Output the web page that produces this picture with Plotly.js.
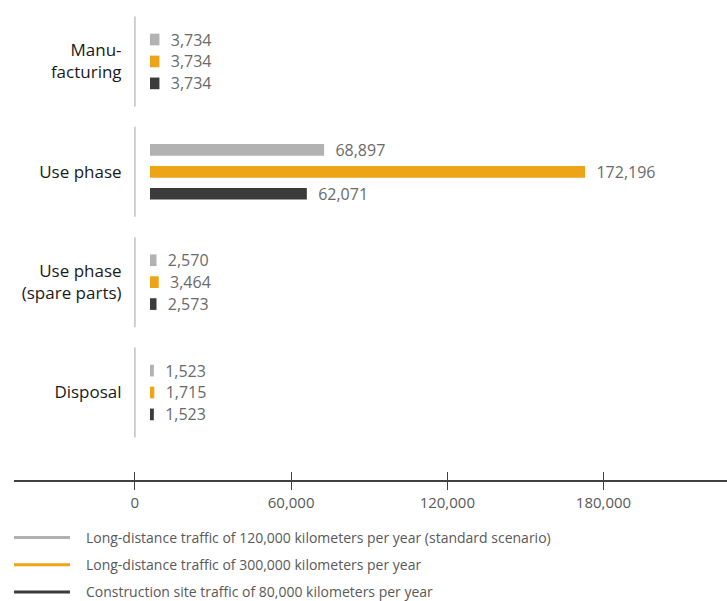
<!DOCTYPE html>
<html><head><meta charset="utf-8">
<script src="https://cdn.plot.ly/plotly-3.0.1.min.js"></script>
<style>body{margin:0;background:#fff}</style>
</head><body><div id="chart" style="width:727px;height:601px"></div>
<script>
const categories = ["Manu-<br>facturing", "Use phase", "Use phase<br>(spare parts)", "Disposal"];
const seriesNames = [
  "Long-distance traffic of 120,000 kilometers per year (standard scenario)",
  "Long-distance traffic of 300,000 kilometers per year",
  "Construction site traffic of 80,000 kilometers per year"
];
const longDistance120k = [3734, 68897, 2570, 1523];
const longDistance300k = [3734, 172196, 3464, 1715];
const constructionSite80k = [3734, 62071, 2573, 1523];
const tickValues = [0, 60000, 120000, 180000];
const tickLabels = ["0", "60,000", "120,000", "180,000"];
const colors = ["#b2b2b2", "#eda416", "#3b3b3b"];

const seriesValues = [longDistance120k, longDistance300k, constructionSite80k];
const FONT = "Open Sans, sans-serif";

const traces = [];
seriesValues.forEach((vals, k) => {
  traces.push({
    type: "bar", orientation: "h",
    x: vals, y: categories,
    xaxis: "x2", yaxis: "y",
    marker: {color: colors[k]},
    text: vals.map(v => "\u00a0\u00a0" + v.toLocaleString("en-US")),
    textposition: "outside", cliponaxis: false, constraintext: "none",
    textfont: {family: FONT, size: 16, color: "#6a6a6a"},
    hoverinfo: "skip", showlegend: false
  });
});
seriesNames.forEach((n, k) => {
  traces.push({
    type: "scatter", mode: "lines", x: [null], y: [null],
    xaxis: "x", yaxis: "y",
    name: "\u00a0\u00a0\u00a0" + n, legendgroup: "g" + k,
    line: {color: colors[k], width: 3}
  });
});

const shapes = categories.map((c, i) => ({
  type: "line", xref: "x", yref: "y",
  x0: 0, x1: 0, y0: i - 0.408, y1: i + 0.408,
  line: {color: "#c0c0c0", width: 1.5}
}));

const xr = [-46441, 227442];
const layout = {
  width: 727, height: 601,
  margin: {l: 14, r: 0, t: 0, b: 121, autoexpand: false},
  paper_bgcolor: "#fff", plot_bgcolor: "#fff",
  barmode: "group", bargap: 0.404, bargroupgap: 0.467,
  showlegend: true,
  legend: {
    xref: "container", yref: "container",
    x: 9 / 727, xanchor: "left", y: 1 - 522 / 601, yanchor: "top",
    font: {family: FONT, size: 14, color: "#595959"},
    tracegroupgap: 6, itemwidth: 56, bgcolor: "rgba(0,0,0,0)"
  },
  xaxis: {
    range: xr, tickvals: tickValues, ticktext: tickLabels, tickangle: 0,
    ticks: "outside", ticklen: 8, tickwidth: 1, tickcolor: "#404040",
    showline: true, linecolor: "#404040", linewidth: 1.5,
    showgrid: false, zeroline: false, fixedrange: true,
    tickfont: {family: FONT, size: 15, color: "#595959"},
    anchor: "y", automargin: false
  },
  xaxis3: {
    overlaying: "x", range: xr, tickvals: tickValues, ticktext: tickLabels,
    ticks: "inside", ticklen: 8, tickwidth: 1, tickcolor: "#404040",
    showticklabels: false, showline: false, showgrid: false, zeroline: false,
    anchor: "y"
  },
  xaxis2: {
    overlaying: "x", range: [-53819, 228334], visible: false, anchor: "y"
  },
  yaxis: {
    type: "category", range: [3.793, -0.557],
    anchor: "free", position: 0.1697,
    ticks: "outside", ticklen: 10, tickcolor: "rgba(0,0,0,0)",
    showline: false, showgrid: false, zeroline: false, automargin: false,
    tickfont: {family: FONT, size: 17, color: "#1a1a1a"}
  },
  shapes: shapes
};
traces.push({type: "scatter", x: [null], y: [null], xaxis: "x3", yaxis: "y", showlegend: false, hoverinfo: "skip"});

Plotly.newPlot("chart", traces, layout, {displayModeBar: false, staticPlot: true});
</script>
</body></html>
